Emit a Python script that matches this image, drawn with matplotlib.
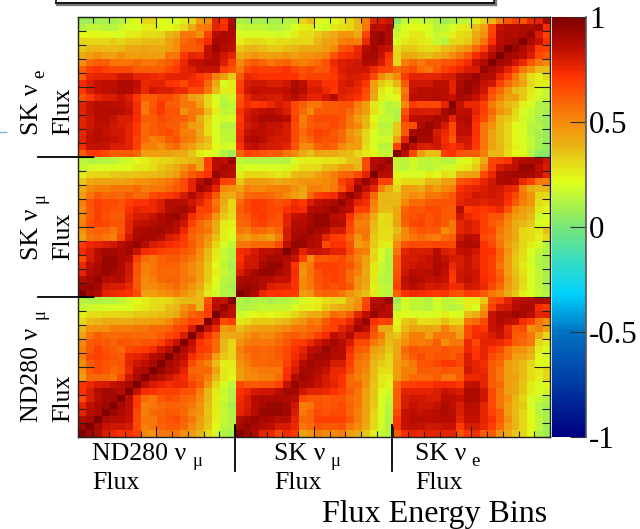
import numpy as np
import matplotlib
matplotlib.use("Agg")
import matplotlib.pyplot as plt
from matplotlib.colors import LinearSegmentedColormap
from matplotlib.lines import Line2D

plt.rcParams['font.family'] = ['Liberation Serif', 'DejaVu Serif']

# correlation in percent, rows read top to bottom, columns left to right
nd_nd = [
    [14,12,12,12,12,15,18,23,25,29,29,31,35,37,38,37,64,85,83,99],
    [16,17,18,19,19,20,20,25,27,29,31,36,38,48,53,38,68,86,93,86],
    [25,29,29,31,31,31,32,34,34,35,37,38,41,53,60,64,68,99,88,85],
    [31,37,39,41,41,41,41,43,43,45,46,50,58,62,68,66,99,85,66,68],
    [38,48,49,49,53,53,53,55,55,58,58,60,66,68,80,99,83,75,46,49],
    [43,55,61,58,58,58,60,58,58,58,61,66,70,79,99,82,72,61,41,41],
    [50,61,64,62,60,64,62,61,64,64,68,77,83,99,85,72,66,58,38,31],
    [53,62,68,64,61,58,66,68,70,74,82,86,99,88,82,70,68,58,38,31],
    [53,66,68,66,64,61,75,77,80,86,89,99,89,85,74,66,62,45,34,31],
    [49,61,66,64,61,64,77,82,85,89,99,90,86,82,66,58,53,37,26,26],
    [48,61,66,64,58,61,75,86,89,99,93,88,85,77,60,58,58,43,27,25],
    [45,58,58,58,55,66,82,89,99,90,87,82,77,74,62,60,53,38,27,23],
    [72,75,79,80,83,86,90,99,86,80,77,74,75,75,68,62,48,31,20,15],
    [72,79,87,90,90,87,99,83,74,72,68,68,68,64,64,53,38,27,16,12],
    [66,79,86,91,91,99,86,70,58,55,62,66,64,60,58,50,38,26,18,12],
    [77,85,89,92,99,90,85,70,53,55,58,60,60,58,55,48,36,26,15,10],
    [77,86,89,99,92,89,85,66,53,58,60,62,62,58,50,48,35,25,16,12],
    [86,90,99,89,87,86,83,66,55,55,61,64,66,60,55,45,36,25,16,12],
    [92,99,90,83,82,82,80,66,53,55,60,62,62,58,50,43,34,23,14,12],
    [99,92,88,79,75,72,72,68,50,48,55,55,55,48,45,38,29,18,12,10],
]
sk_nd = [
    [14,12,12,13,14,16,18,23,25,29,31,31,35,36,38,41,68,86,85,93],
    [16,18,20,20,20,20,23,27,27,29,34,38,41,48,55,41,68,86,90,87],
    [25,31,31,31,34,34,35,35,36,37,38,41,45,55,62,66,72,93,88,86],
    [34,41,43,43,43,43,45,48,48,50,53,55,60,66,77,86,93,85,68,66],
    [41,50,53,53,55,55,55,58,53,55,55,58,62,66,77,91,86,77,50,48],
    [45,55,62,58,60,58,62,58,58,66,68,70,74,80,88,82,75,62,43,41],
    [53,64,68,66,66,64,68,72,72,75,79,86,86,86,82,77,68,55,41,31],
    [50,62,68,66,64,64,72,77,75,75,80,87,89,90,85,68,68,58,38,31],
    [50,62,68,64,62,62,75,80,80,83,88,91,93,86,74,66,62,48,34,29],
    [53,64,68,66,64,64,77,83,85,87,89,91,87,82,68,58,53,41,27,25],
    [48,58,60,60,55,62,77,88,89,90,91,88,85,75,62,58,55,41,25,23],
    [43,55,58,55,53,66,82,89,91,90,87,80,77,70,60,55,48,36,25,20],
    [70,75,77,79,82,86,90,93,87,80,77,74,72,68,62,55,45,31,20,15],
    [74,80,87,91,90,88,91,83,74,72,68,66,66,62,60,50,38,27,16,12],
    [66,80,86,93,93,89,86,68,58,55,60,62,62,58,55,48,36,25,16,12],
    [75,85,89,93,93,89,82,64,53,55,60,60,60,55,50,45,34,23,15,10],
    [77,87,90,93,90,88,82,64,53,55,58,58,58,55,50,45,34,25,16,12],
    [87,90,93,87,86,87,80,62,50,53,58,60,60,55,53,45,34,23,14,12],
    [92,93,90,82,79,79,75,62,50,50,53,55,58,53,48,41,29,20,12,10],
    [99,90,87,77,75,74,72,66,45,45,48,50,53,48,43,36,27,18,12,12],
]
sk_sk = [
    [15,13,13,13,12,12,12,20,25,26,26,28,28,29,35,36,66,87,88,93],
    [18,20,20,20,20,20,18,25,29,29,31,36,38,45,45,38,66,88,92,88],
    [26,31,31,31,29,27,29,37,38,38,43,48,53,58,60,66,77,99,87,86],
    [34,45,45,45,43,41,43,45,48,49,49,50,53,68,74,85,93,85,68,68],
    [43,53,50,50,53,53,53,48,43,53,53,50,55,64,77,93,85,77,53,41],
    [50,58,60,60,58,55,50,45,41,60,68,72,74,85,93,86,77,58,38,38],
    [58,66,70,70,66,64,66,74,70,79,85,87,88,93,86,77,74,53,38,38],
    [61,66,70,68,66,66,72,75,74,86,88,90,93,88,85,68,68,50,38,36],
    [60,62,68,70,66,64,77,83,85,90,93,93,86,85,72,58,55,41,29,31],
    [58,60,66,68,64,64,77,86,87,90,93,93,88,86,68,53,53,38,29,31],
    [55,53,60,58,55,60,80,88,89,93,90,88,80,80,66,55,55,36,29,29],
    [48,45,50,48,43,53,80,90,91,89,86,77,70,68,60,48,55,34,29,29],
    [55,55,58,58,58,66,85,93,93,88,86,66,72,72,64,45,48,34,27,25],
    [74,75,80,85,85,88,99,89,77,83,83,82,77,77,66,55,53,31,20,14],
    [72,80,82,86,90,90,88,83,68,50,62,62,64,66,60,53,43,31,20,12],
    [75,82,82,90,93,93,86,72,50,55,68,68,68,66,64,55,43,27,16,12],
    [79,85,90,93,93,90,86,74,48,55,64,68,68,66,58,53,41,27,16,12],
    [88,90,90,88,86,83,83,72,50,55,64,66,68,66,58,48,43,27,14,12],
    [91,93,91,87,79,77,77,72,50,55,62,66,64,66,62,48,41,25,16,14],
    [99,93,88,75,72,72,70,70,45,48,58,60,60,55,48,41,36,27,16,14],
]
e_nd = [
    [ 8, 8,10,10,10,13,18,23,31,31,23,20,20,26,31,45,49,77,71,86],
    [12,15,15,13,13,17,20,20,25,26,23,23,26,31,41,53,55,77,74,89],
    [23,24,23,23,20,20,26,26,29,29,31,38,41,55,55,49,68,86,89,88],
    [31,31,31,31,34,31,35,35,37,37,37,43,49,58,61,66,74,90,89,86],
    [34,38,38,37,37,38,41,41,43,41,41,45,49,61,61,64,83,92,86,85],
    [41,45,49,45,45,49,45,45,45,45,45,55,55,71,77,75,85,88,82,77],
    [49,58,61,61,55,55,55,58,55,55,58,61,66,75,83,85,88,88,79,68],
    [61,68,72,68,66,66,66,61,61,61,61,66,71,77,79,83,83,83,68,64],
    [61,75,77,77,77,82,82,77,77,75,74,77,77,77,75,71,66,53,45,34],
    [74,79,83,85,85,88,89,85,75,77,77,72,71,66,74,72,58,41,20,26],
    [71,79,83,85,86,89,88,83,75,82,79,79,75,75,66,66,55,37,26,26],
    [64,71,77,79,79,83,79,71,61,61,66,66,61,55,45,41,31,20,15,18],
    [77,83,86,86,85,85,82,74,55,61,71,61,61,55,55,45,31,23,12,15],
    [77,83,86,88,88,86,83,74,55,64,71,64,64,49,55,53,37,26,15,15],
    [77,82,86,86,83,79,79,74,61,61,66,64,61,61,55,41,31,20,18,20],
    [77,82,85,85,82,79,77,71,58,61,64,61,61,55,45,43,29,20,13,12],
    [75,83,86,83,82,82,77,71,58,61,64,66,61,53,53,41,29,20,15,15],
    [77,85,86,85,83,82,77,68,58,53,55,61,64,55,53,43,37,20,15,15],
    [74,83,83,83,79,79,77,68,53,53,49,55,58,49,45,37,34,23,18,20],
    [61,71,71,66,61,61,61,58,45,45,45,43,41,41,35,26,23,20,12, 8],
]
e_sk = [
    [12,10,10,10,10,10,12,14,31,36,23,20,23,27,31,38,53,77,79,82],
    [16,15,15,15,13,13,15,20,25,27,20,18,27,29,31,38,55,86,85,89],
    [20,20,20,20,20,18,20,26,29,29,34,38,41,48,48,41,68,90,93,88],
    [25,29,31,29,27,29,29,31,31,31,38,43,45,53,55,53,75,91,93,88],
    [34,38,38,36,34,34,36,38,41,41,41,45,50,62,66,75,86,91,85,83],
    [41,45,48,45,45,45,48,45,48,48,50,53,64,72,74,77,89,90,83,72],
    [50,58,62,60,55,58,60,55,53,55,58,64,75,79,80,82,88,87,80,68],
    [55,66,70,68,68,68,72,66,64,66,62,64,72,79,82,82,82,75,68,66],
    [62,75,74,72,72,72,72,72,66,68,68,68,70,77,80,79,77,66,50,41],
    [68,80,82,82,79,79,82,88,85,77,77,72,72,79,82,77,71,45,34,29],
    [70,82,85,83,83,83,85,89,86,79,80,75,70,79,77,75,66,43,27,23],
    [64,75,82,82,80,79,83,86,82,77,77,82,86,77,75,72,64,41,25,20],
    [66,74,70,72,75,80,77,66,61,55,55,62,62,64,64,53,45,27,18,14],
    [72,79,83,85,86,83,79,66,58,50,62,62,62,64,58,50,45,29,18,14],
    [70,82,85,89,89,88,86,68,53,62,66,66,66,64,55,45,38,23,16,16],
    [72,80,83,86,83,83,80,66,55,62,64,64,66,62,55,50,38,26,14,14],
    [74,83,86,85,83,82,79,66,58,64,68,66,62,58,48,41,31,20,15,15],
    [75,86,89,86,82,80,80,66,55,60,66,64,64,58,50,45,31,20,18,18],
    [72,83,85,82,80,79,77,64,50,50,60,62,60,50,45,45,29,20,14,14],
    [60,68,66,64,61,61,55,50,41,36,43,41,41,38,36,31,27,23,16,16],
]
e_e = [
    [ 5,16,18,16,16,12, 8,12,14,16,25,31,37,53,62,68,64,75,77,91],
    [14,20,23,23,20,14,15,20,25,27,36,45,66,83,86,86,88,88,91,74],
    [17,23,27,27,20,16,18,25,29,31,41,48,68,86,88,88,89,93,79,68],
    [20,27,29,27,25,16,14,31,31,34,45,55,72,86,89,90,99,89,83,72],
    [29,34,34,31,29,31,36,38,43,48,58,68,82,89,99,93,88,83,70,68],
    [31,41,41,38,36,41,43,50,55,62,74,80,88,99,91,89,86,79,66,62],
    [31,53,58,55,60,60,64,64,68,74,83,87,99,91,88,82,75,62,55,50],
    [58,62,66,58,55,62,68,72,75,79,80,93,89,85,77,68,55,48,36,36],
    [50,70,77,77,77,77,79,80,87,89,93,88,86,77,68,55,41,29,25,31],
    [38,62,82,82,82,85,85,77,88,93,91,83,82,68,58,50,43,31,25,25],
    [29,55,83,86,86,86,86,77,90,93,88,82,66,58,48,36,34,27,20,16],
    [23,58,86,86,86,88,86,83,90,88,83,77,62,53,43,45,34,25,18,16],
    [16,50,70,66,66,66,77,99,83,75,75,68,53,45,38,34,25,20,12,12],
    [12,64,80,80,79,80,90,93,85,85,77,68,58,48,41,31,20,16,12,10],
    [12,70,85,86,87,90,88,77,86,88,74,66,53,38,34,29,18,16,10, 8],
    [34,62,66,88,93,89,80,66,85,86,72,55,48,36,31,23,20,14,12, 8],
    [34,62,90,91,91,80,75,66,85,85,72,55,43,36,31,23,20,14,10, 7],
    [43,77,99,90,90,82,74,62,82,82,72,55,43,36,31,23,20,16,10, 7],
    [68,93,85,79,79,82,75,72,75,80,70,55,43,38,31,25,20,15,10, 7],
    [99,86,66,45,36,36,68,72,64,62,61,53,38,38,29,23,23,14, 4, 4],
]
cbar_ticks = [-1, -0.5, 0, 0.5, 1]
cbar_labels = ['-1', '-0.5', '0', '0.5', '1']

W, H = 640, 529


def mirror(block):
    # the other side of the symmetric matrix, as it shows on screen
    return np.array(block)[::-1, ::-1].T


matrix = np.block([
    [np.array(e_nd), np.array(e_sk), np.array(e_e)],
    [np.array(sk_nd), np.array(sk_sk), mirror(e_sk)],
    [np.array(nd_nd), mirror(sk_nd), mirror(e_nd)],
]) / 100.0

nodes = [(-1, (0, 0, 130)), (-0.5, (0, 115, 195)), (-0.32, (0, 210, 255)),
         (-0.15, (60, 222, 190)), (0, (120, 230, 120)), (0.22, (225, 255, 25)),
         (0.4, (235, 175, 20)), (0.5, (245, 140, 10)), (0.72, (255, 50, 0)),
         (0.85, (190, 15, 0)), (1, (125, 0, 0))]
cmap = LinearSegmentedColormap.from_list(
    'flux', [((v + 1) / 2, tuple(c / 255 for c in rgb)) for v, rgb in nodes], N=256)

fig = plt.figure(figsize=(W / 100, H / 100), dpi=100)
ax = fig.add_axes([77.5 / W, 1 - 437 / H, 472.5 / W, 420 / H])
im = ax.imshow(matrix, cmap=cmap, vmin=-1, vmax=1, extent=[0, 60, 0, 60],
               origin='upper', aspect='auto', interpolation='nearest')

ax.set_xticks(np.arange(0, 61, 10))
ax.set_xticks(np.arange(0, 61, 2), minor=True)
ax.set_yticks(np.arange(0, 61, 10))
ax.set_yticks(np.arange(0, 61, 2), minor=True)
ax.set_xticklabels([])
ax.set_yticklabels([])
ax.tick_params(axis='x', which='major', direction='in', top=True, length=8, width=0.8, color='#222222')
ax.tick_params(axis='x', which='minor', direction='in', top=True, length=4, width=0.8, color='#222222')
ax.tick_params(axis='y', which='major', direction='in', right=True, length=11.5, width=0.8, color='#222222')
ax.tick_params(axis='y', which='minor', direction='in', right=True, length=5.5, width=0.8, color='#222222')
for s in ax.spines.values():
    s.set_linewidth(1.0)
    s.set_color('#222222')

cax = fig.add_axes([552 / W, 1 - 437 / H, 34 / W, 420 / H])
cb = fig.colorbar(im, cax=cax, ticks=cbar_ticks)
cb.ax.set_yticklabels(cbar_labels, fontsize=22.3)
cb.ax.tick_params(direction='in', length=11.5, width=0.8, pad=2, color='#333333')
cb.outline.set_visible(False)
cb.ax.plot([1, 1], [-1, 1], color='#555555', lw=1.2, clip_on=False)


def label(x, y, s, size=18.6, rotation=0):
    fig.text(x / W, 1 - y / H, s, fontsize=size, ha='left', va='baseline',
             rotation=rotation, rotation_mode='anchor', color='black')


SUB = 13.5
label(92, 460, 'ND280 ν')
label(193, 466, 'μ', size=SUB)
label(92, 489, 'Flux')
label(274, 460, 'SK ν')
label(330, 466, 'μ', size=SUB)
label(274, 489, 'Flux')
label(415, 460, 'SK ν')
label(471, 466, 'e', size=SUB)
label(415, 489, 'Flux')
label(322, 522, 'Flux Energy Bins', size=23)
label(38, 135, 'SK ν', rotation=90)
label(44, 78, 'e', size=SUB, rotation=90)
label(69, 135, 'Flux', rotation=90)
label(38, 260, 'SK ν', rotation=90)
label(44, 203, 'μ', size=SUB, rotation=90)
label(69, 260, 'Flux', rotation=90)
label(38, 422, 'ND280 ν', rotation=90)
label(44, 319, 'μ', size=SUB, rotation=90)
label(69, 422, 'Flux', rotation=90)


def seg(x0, y0, x1, y1, color='black', lw=1.3):
    fig.add_artist(Line2D([x0 / W, x1 / W], [1 - y0 / H, 1 - y1 / H], color=color, lw=lw))


# block separators outside the frame
seg(38, 156.7, 93, 156.7)
seg(38, 296.7, 93, 296.7)
seg(235, 425, 235, 471)
seg(392, 425, 392, 471)

# bits of the page around the figure
seg(0, 132, 6, 132, color='#7fb3d5', lw=1)
seg(57, 5, 496, 5, color='#777777', lw=1.6)
seg(495.5, 0, 495.5, 5, color='#777777', lw=1.6)
seg(56, 3.3, 494, 3.3, lw=1.3)
seg(56, 0, 56, 3.3, lw=1.1)
seg(494, 0, 494, 3.3, lw=1.1)

fig.savefig('out.png', dpi=100)
